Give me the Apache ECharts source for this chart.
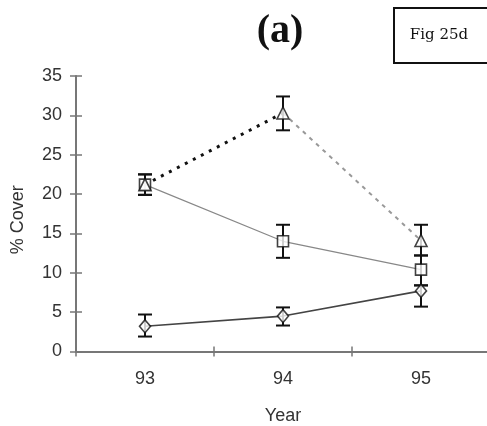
<!DOCTYPE html>
<html><head><meta charset="utf-8">
<script src="https://cdn.jsdelivr.net/npm/echarts@6/dist/echarts.min.js"></script>
<style>html,body{margin:0;padding:0;background:#fff}#c{width:487px;height:426px}</style>
</head><body><div id="c"></div>
<script>
const years = ['93', '94', '95'];
const triangle = [21.2, 30.3, 14.1];
const triangleLow = [19.9, 28.1, 12.2];
const triangleHigh = [22.5, 32.4, 16.1];
const square = [21.2, 14.0, 10.4];
const squareLow = [19.9, 11.9, 8.4];
const squareHigh = [22.5, 16.1, 12.2];
const diamond = [3.2, 4.5, 7.7];
const diamondLow = [1.9, 3.3, 5.7];
const diamondHigh = [4.7, 5.6, 8.4];

const chart = echarts.init(document.getElementById('c'), null, {renderer: 'canvas'});
const axisCol = '#777';
const txtCol = '#333';
const fontFam = '"Liberation Sans", Arial, sans-serif';
const fs = 18;

function errData(lo, hi) { return lo.map((l, i) => [i, l, hi[i]]); }
function renderErr(params, api) {
  const x = api.value(0);
  const lo = api.coord([x, api.value(1)]);
  const hi = api.coord([x, api.value(2)]);
  const w = 7;
  const st = {stroke: '#111', lineWidth: 2};
  return {type: 'group', children: [
    {type: 'line', shape: {x1: lo[0], y1: lo[1], x2: hi[0], y2: hi[1]}, style: st},
    {type: 'line', shape: {x1: lo[0] - w, y1: lo[1], x2: lo[0] + w, y2: lo[1]}, style: st},
    {type: 'line', shape: {x1: hi[0] - w, y1: hi[1], x2: hi[0] + w, y2: hi[1]}, style: st}
  ]};
}
const markStyle = {color: '#fff', borderColor: '#111', borderWidth: 1.6};

const seg1 = triangle.map((v, i) => i <= 1 ? v : '-');
const seg2 = triangle.map((v, i) => i >= 1 ? v : '-');

chart.setOption({
  animation: false,
  backgroundColor: '#fff',
  grid: {left: 76, right: -3, top: 76, bottom: 74.5, containLabel: false, outerBoundsMode: 'none'},
  graphic: [
    {type: 'text', x: 280, y: 32, style: {text: '(a)', font: 'bold 40px "Liberation Serif", "Times New Roman", serif', fill: '#111', align: 'center', verticalAlign: 'middle'}},
    {type: 'rect', shape: {x: 394, y: 8, width: 110, height: 55}, style: {fill: '#fff', stroke: '#111', lineWidth: 2}},
    {type: 'text', x: 439, y: 35, style: {text: 'Fig 25d', font: '15px "DejaVu Serif", serif', fill: '#111', align: 'center', verticalAlign: 'middle'}}
  ],
  xAxis: [{
    type: 'category', data: years, boundaryGap: true,
    name: 'Year', nameLocation: 'middle', nameGap: 56,
    nameTextStyle: {color: txtCol, fontSize: fs, fontFamily: fontFam},
    axisLine: {lineStyle: {color: axisCol, width: 2}},
    axisTick: {show: true, length: 5, lineStyle: {color: axisCol, width: 1.5}},
    axisLabel: {color: txtCol, fontSize: fs, fontFamily: fontFam, margin: 19},
    splitLine: {show: false}
  }, {
    type: 'category', data: years, boundaryGap: true, position: 'bottom',
    axisLine: {show: false},
    axisTick: {show: true, inside: true, length: 5, lineStyle: {color: axisCol, width: 1.5}},
    axisLabel: {show: false}, splitLine: {show: false}
  }],
  yAxis: [{
    type: 'value', min: 0, max: 35, interval: 5,
    name: '% Cover', nameLocation: 'middle', nameGap: 49,
    nameTextStyle: {color: txtCol, fontSize: fs, fontFamily: fontFam, padding: [0, 12, 0, 0]},
    axisLine: {show: true, lineStyle: {color: axisCol, width: 2}},
    axisTick: {show: true, length: 6, lineStyle: {color: axisCol, width: 1.5}},
    axisLabel: {color: txtCol, fontSize: fs, fontFamily: fontFam, margin: 14},
    splitLine: {show: false}
  }, {
    type: 'value', min: 0, max: 35, interval: 5, position: 'left',
    axisLine: {show: false},
    axisTick: {show: true, inside: true, length: 6, lineStyle: {color: axisCol, width: 1.5}},
    axisLabel: {show: false}, splitLine: {show: false}
  }],
  series: [
    {type: 'line', data: seg1, symbol: 'none', lineStyle: {color: '#111', width: 3, type: [3, 6]}, z: 2},
    {type: 'line', data: seg2, symbol: 'none', lineStyle: {color: '#999', width: 2, type: [4, 5]}, z: 2},
    {type: 'line', data: square, symbol: 'none', lineStyle: {color: '#888', width: 1.2}, z: 2},
    {type: 'line', data: diamond, symbol: 'none', lineStyle: {color: '#444', width: 1.6}, z: 2},
    {type: 'custom', data: errData(triangleLow, triangleHigh), renderItem: renderErr, z: 3},
    {type: 'custom', data: errData(squareLow, squareHigh), renderItem: renderErr, z: 3},
    {type: 'custom', data: errData(diamondLow, diamondHigh), renderItem: renderErr, z: 3},
    {type: 'scatter', data: square, symbol: 'rect', symbolSize: 11, itemStyle: markStyle, z: 4},
    {type: 'scatter', data: triangle, symbol: 'triangle', symbolSize: [12, 12], itemStyle: markStyle, z: 5},
    {type: 'scatter', data: diamond, symbol: 'diamond', symbolSize: [11, 13], itemStyle: markStyle, z: 4}
  ]
});
</script></body></html>
